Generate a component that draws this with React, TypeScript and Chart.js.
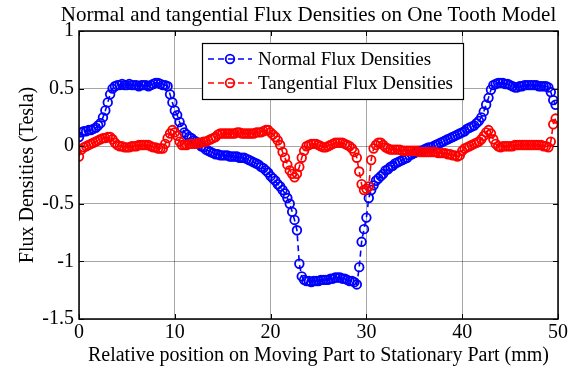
import React, { useEffect, useRef } from "react";
import { Chart, registerables } from "chart.js";

Chart.register(...registerables);

// Sampling step along the x axis (mm)
const STEP_MM = 0.25;

// Normal flux density (Tesla), one value every 0.25 mm from 0 mm
const normalFlux = [
  0.08, 0.12, 0.13, 0.13, 0.14, 0.14, 0.15, 0.16, 0.18, 0.2, 0.25, 0.31,
  0.38, 0.45, 0.5, 0.52, 0.53, 0.53, 0.54, 0.53, 0.53, 0.54, 0.53, 0.53,
  0.53, 0.52, 0.53, 0.53, 0.53, 0.52, 0.53, 0.54, 0.55, 0.55, 0.54, 0.53,
  0.53, 0.52, 0.45, 0.38, 0.31, 0.27, 0.21, 0.16, 0.12, 0.1, 0.08, 0.07,
  0.05, 0.04, 0.02, 0.0, -0.01, -0.03, -0.04, -0.05, -0.06, -0.07, -0.07, -0.08,
  -0.08, -0.08, -0.08, -0.09, -0.09, -0.09, -0.09, -0.1, -0.1, -0.1, -0.11, -0.12,
  -0.13, -0.14, -0.15, -0.16, -0.18, -0.19, -0.21, -0.23, -0.26, -0.28, -0.3, -0.33,
  -0.35, -0.38, -0.41, -0.45, -0.5, -0.57, -0.64, -0.73, -1.02, -1.13, -1.16, -1.17,
  -1.17, -1.18, -1.17, -1.17, -1.17, -1.16, -1.16, -1.16, -1.16, -1.15, -1.15, -1.14,
  -1.14, -1.14, -1.15, -1.15, -1.16, -1.17, -1.17, -1.18, -1.2, -1.05, -0.83, -0.72,
  -0.62, -0.45, -0.38, -0.34, -0.3, -0.28, -0.26, -0.24, -0.21, -0.2, -0.18, -0.17,
  -0.15, -0.14, -0.13, -0.12, -0.11, -0.1, -0.08, -0.07, -0.06, -0.05, -0.04, -0.04,
  -0.03, -0.02, -0.01, -0.01, 0.0, 0.01, 0.02, 0.03, 0.04, 0.05, 0.06, 0.07,
  0.08, 0.09, 0.1, 0.11, 0.12, 0.13, 0.15, 0.16, 0.17, 0.18, 0.2, 0.22,
  0.25, 0.3, 0.36, 0.42, 0.49, 0.53, 0.54, 0.55, 0.55, 0.55, 0.54, 0.54,
  0.53, 0.52, 0.51, 0.51, 0.52, 0.52, 0.53, 0.53, 0.53, 0.53, 0.53, 0.53,
  0.52, 0.52, 0.52, 0.52, 0.51, 0.47, 0.4, 0.36,
];

// Tangential flux density (Tesla), one value every 0.25 mm from 0 mm
const tangentialFlux = [
  -0.09, -0.03, -0.01, 0.0, 0.01, 0.02, 0.03, 0.04, 0.05, 0.06, 0.07, 0.07,
  0.08, 0.08, 0.06, 0.03, 0.01, 0.0, 0.0, -0.01, -0.01, -0.01, 0.0, 0.0,
  0.0, 0.01, 0.01, 0.01, 0.01, 0.01, 0.0, -0.01, -0.01, -0.02, -0.02, -0.02,
  0.02, 0.07, 0.11, 0.14, 0.12, 0.09, 0.04, 0.01, 0.01, 0.01, 0.02, 0.02,
  0.02, 0.02, 0.03, 0.03, 0.04, 0.04, 0.05, 0.06, 0.07, 0.08, 0.1, 0.11,
  0.11, 0.11, 0.11, 0.11, 0.11, 0.11, 0.12, 0.12, 0.11, 0.11, 0.11, 0.11,
  0.11, 0.11, 0.12, 0.12, 0.12, 0.13, 0.14, 0.14, 0.12, 0.1, 0.08, 0.05,
  0.01, -0.05, -0.1, -0.16, -0.21, -0.24, -0.27, -0.24, -0.18, -0.1, -0.04, 0.0,
  0.01, 0.02, 0.02, 0.02, 0.01, 0.0, -0.01, -0.01, 0.0, 0.01, 0.02, 0.03,
  0.03, 0.03, 0.03, 0.02, 0.01, 0.0, -0.02, -0.05, -0.1, -0.22, -0.33, -0.38,
  -0.37, -0.35, -0.12, -0.02, 0.01, 0.03, 0.03, 0.01, -0.01, -0.02, -0.03, -0.03,
  -0.03, -0.03, -0.03, -0.04, -0.04, -0.04, -0.04, -0.04, -0.04, -0.04, -0.05, -0.05,
  -0.05, -0.05, -0.05, -0.05, -0.05, -0.05, -0.06, -0.06, -0.06, -0.06, -0.07, -0.07,
  -0.08, -0.08, -0.09, -0.08, -0.04, -0.02, -0.01, 0.0, 0.01, 0.02, 0.03, 0.04,
  0.06, 0.09, 0.12, 0.14, 0.11, 0.06, 0.02, 0.0, -0.01, 0.0, 0.0, 0.0,
  0.0, 0.0, 0.01, 0.01, 0.01, 0.01, 0.01, 0.01, 0.01, 0.01, 0.01, 0.01,
  0.01, 0.01, 0.0, 0.0, -0.01, 0.04, 0.19, 0.24,
];

const xTicks = [0, 10, 20, 30, 40, 50];
const yTicks = [-1.5, -1, -0.5, 0, 0.5, 1];
const yTickLabels = ["-1.5", "-1", "-0.5", "0", "0.5", "1"];

const chartTitle = "Normal and tangential Flux Densities on One Tooth Model";
const xAxisTitle = "Relative position on Moving Part to Stationary Part (mm)";
const yAxisTitle = "Flux Densities (Tesla)";
const seriesNames = ["Normal Flux Densities", "Tangential Flux Densities"];
const seriesColors = ["#0000ff", "#ff0000"];

const FONT = '"Liberation Serif", "Times New Roman", serif';
const TITLE_SIZE = 21;
const AXIS_SIZE = 20;
const LEGEND_SIZE = 19;

const boxPlugin = {
  id: "matlabBox",
  afterDraw(chart: any) {
    const { ctx, chartArea } = chart;
    const { left, right, top, bottom } = chartArea;
    const xs = chart.scales.x;
    const ys = chart.scales.y;
    ctx.save();

    // title
    ctx.fillStyle = "#000";
    ctx.font = `${TITLE_SIZE}px ${FONT}`;
    ctx.textAlign = "center";
    ctx.textBaseline = "middle";
    ctx.fillText(chartTitle, 308.5, 15);

    ctx.strokeStyle = "#000";
    ctx.lineWidth = 1;
    ctx.beginPath();
    const tl = 5;
    xTicks.forEach((t) => {
      const px = Math.round(xs.getPixelForValue(t)) + 0.5;
      ctx.moveTo(px, bottom);
      ctx.lineTo(px, bottom - tl);
      ctx.moveTo(px, top);
      ctx.lineTo(px, top + tl);
    });
    yTicks.forEach((t) => {
      const py = Math.round(ys.getPixelForValue(t)) + 0.5;
      ctx.moveTo(left, py);
      ctx.lineTo(left + tl, py);
      ctx.moveTo(right, py);
      ctx.lineTo(right - tl, py);
    });
    ctx.stroke();
    ctx.lineWidth = 1.5;
    ctx.strokeRect(left, top, right - left, bottom - top);

    // legend
    const lx = 202, ly = 43, lw = 261, lh = 56;
    ctx.fillStyle = "#fff";
    ctx.fillRect(lx, ly, lw, lh);
    ctx.lineWidth = 1.2;
    ctx.strokeStyle = "#000";
    ctx.strokeRect(lx + 0.5, ly + 0.5, lw, lh);
    const rows = [59, 83];
    rows.forEach((ry, i) => {
      ctx.strokeStyle = seriesColors[i];
      ctx.lineWidth = 1.6;
      ctx.setLineDash([6, 4]);
      ctx.beginPath();
      ctx.moveTo(208, ry);
      ctx.lineTo(252, ry);
      ctx.stroke();
      ctx.setLineDash([]);
      ctx.lineWidth = 1.8;
      ctx.beginPath();
      ctx.arc(230, ry, 4.3, 0, Math.PI * 2);
      ctx.stroke();
      ctx.fillStyle = "#000";
      ctx.font = `${LEGEND_SIZE}px ${FONT}`;
      ctx.textBaseline = "middle";
      ctx.textAlign = "left";
      ctx.fillText(seriesNames[i], 258, ry + 1);
    });
    ctx.restore();
  },
};

export default function App() {
  const ref = useRef<HTMLCanvasElement>(null);
  useEffect(() => {
    document.body.style.margin = "0";
    const canvas = ref.current;
    if (!canvas) return;
    const mk = (vals: number[]) => vals.map((v, i) => ({ x: i * STEP_MM, y: v }));
    const ds = (i: number, vals: number[], order: number) => ({
      label: seriesNames[i],
      data: mk(vals),
      borderColor: seriesColors[i],
      backgroundColor: "transparent",
      borderWidth: 1.6,
      borderDash: [6, 4],
      pointRadius: 4.3,
      pointBorderWidth: 1.8,
      pointBackgroundColor: "transparent",
      pointBorderColor: seriesColors[i],
      order,
    });
    const chart = new Chart(canvas, {
      type: "line",
      data: {
        datasets: [ds(0, normalFlux, 2), ds(1, tangentialFlux, 1)],
      },
      options: {
        responsive: false,
        animation: false,
        devicePixelRatio: 1,
        layout: { padding: { left: 0, right: 12, top: 31, bottom: 0 } },
        plugins: {
          legend: { display: false },
          tooltip: { enabled: false },
          title: { display: false },
        },
        scales: {
          x: {
            type: "linear",
            min: 0,
            max: 50,
            afterFit: (s: any) => {
              s.height = 53;
            },
            afterBuildTicks: (s: any) => {
              s.ticks = xTicks.map((v) => ({ value: v }));
            },
            grid: { color: "rgba(0,0,0,0.35)", drawTicks: false },
            border: { display: false },
            ticks: {
              color: "#000",
              padding: 2,
              font: { family: FONT, size: AXIS_SIZE },
              maxRotation: 0,
              callback: (v: any) => String(v),
            },
            title: {
              display: true,
              text: xAxisTitle,
              color: "#000",
              font: { family: FONT, size: AXIS_SIZE },
              padding: { top: 0, bottom: 4 },
            },
          },
          y: {
            type: "linear",
            min: -1.5,
            max: 1,
            afterFit: (s: any) => {
              s.width = 79;
            },
            afterBuildTicks: (s: any) => {
              s.ticks = yTicks.map((v) => ({ value: v }));
            },
            grid: { color: "rgba(0,0,0,0.35)", drawTicks: false },
            border: { display: false },
            ticks: {
              color: "#000",
              padding: 5,
              font: { family: FONT, size: AXIS_SIZE },
              callback: (v: any) => {
                const k = yTicks.indexOf(Number(v));
                return k >= 0 ? yTickLabels[k] : String(v);
              },
            },
            title: {
              display: true,
              text: yAxisTitle,
              color: "#000",
              font: { family: FONT, size: AXIS_SIZE },
              padding: { top: 16, bottom: 0 },
            },
          },
        },
      },
      plugins: [boxPlugin],
    });
    return () => chart.destroy();
  }, []);
  return (
    <div style={{ position: "absolute", left: 0, top: 0, width: 570, height: 372 }}>
      <canvas ref={ref} width={570} height={372} />
    </div>
  );
}
